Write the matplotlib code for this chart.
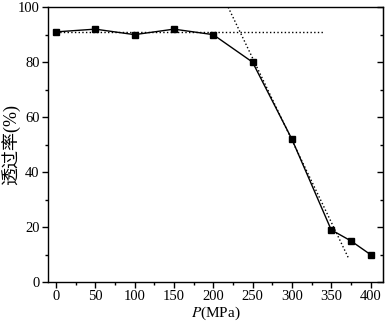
import matplotlib
matplotlib.use("Agg")
import matplotlib.pyplot as plt
from matplotlib.ticker import MultipleLocator

# Datos
presion = [0, 50, 100, 150, 200, 250, 300, 350, 375, 400]
transmision = [91, 92, 90, 92, 90, 80, 52, 19, 15, 10]

# Líneas de referencia (punteadas)
horiz_x = [0, 340]
horiz_y = [91, 91]
pend_x = [219, 372]
pend_y = [100, 8.7]

plt.rcParams.update({
    "font.family": ["Liberation Serif", "Noto Sans CJK SC"],
    "font.size": 10.5,
    "mathtext.fontset": "stix",
})

fig = plt.figure(figsize=(3.87, 3.25), dpi=100)
ax = fig.add_axes([0.124, 0.132, 0.866, 0.846])

ax.plot(horiz_x, horiz_y, ls=":", color="black", lw=1.0)
ax.plot(pend_x, pend_y, ls=":", color="black", lw=1.0)
ax.plot(presion, transmision, "-s", color="black", lw=1.0, ms=5)

ax.set_xlim(-10, 416)
ax.set_ylim(0, 100)
ax.xaxis.set_major_locator(MultipleLocator(50))
ax.xaxis.set_minor_locator(MultipleLocator(25))
ax.yaxis.set_major_locator(MultipleLocator(20))
ax.yaxis.set_minor_locator(MultipleLocator(10))

ax.tick_params(which="both", direction="out", top=False, right=False)
ax.tick_params(which="major", length=4, width=1, pad=2)
ax.tick_params(which="minor", length=2.5, width=1)
ax2 = ax.secondary_yaxis("right")
ax2.yaxis.set_major_locator(MultipleLocator(20))
ax2.yaxis.set_minor_locator(MultipleLocator(10))
ax2.tick_params(which="both", direction="in", labelright=False)
ax2.tick_params(which="major", length=4, width=1)
ax2.tick_params(which="minor", length=2.5, width=1)

for s in ax.spines.values():
    s.set_linewidth(1.0)

ax.set_xlabel("$P$(MPa)", labelpad=1, fontsize=11)
ax.set_ylabel("透过率(%)", fontsize=13)
ax.yaxis.set_label_coords(-0.083, 0.5)

fig.savefig("out.png", dpi=100, facecolor="white")
